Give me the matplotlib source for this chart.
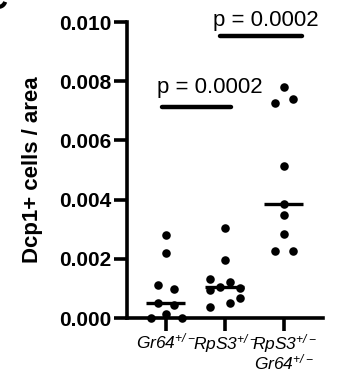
import matplotlib
matplotlib.use("Agg")
import matplotlib.pyplot as plt
import numpy as np

plt.rcParams['font.family'] = ['Liberation Sans', 'DejaVu Sans']
plt.rcParams['mathtext.fontset'] = 'custom'
plt.rcParams['mathtext.rm'] = 'Liberation Sans:italic'
plt.rcParams['mathtext.it'] = 'Liberation Sans:italic'
plt.rcParams['mathtext.bf'] = 'Liberation Sans:bold'

# ---- data ----
group_labels = [r'$Gr64^{+/-}$',
                r'$RpS3^{+/-}$',
                r'$RpS3^{+/-}$' + '\n' + r'$Gr64^{+/-}$']
gr64 = [0.00279, 0.00219, 0.00110, 0.00098, 0.00050, 0.00045, 0.0000, 0.00015, 0.0000]
gr64_dx = [0.0, 0.0, -0.13, 0.13, -0.13, 0.13, -0.25, 0.0, 0.27]
rps3 = [0.00304, 0.00197, 0.00132, 0.00095, 0.00106, 0.00120, 0.00103, 0.00050, 0.00067, 0.00038]
rps3_dx = [0.0, 0.0, -0.25, -0.25, -0.085, 0.085, 0.25, 0.085, 0.25, -0.25]
double = [0.00781, 0.00728, 0.00741, 0.00513, 0.00385, 0.00347, 0.00284, 0.00225, 0.00225]
double_dx = [0.0, -0.15, 0.15, 0.0, 0.0, 0.0, 0.0, -0.15, 0.15]
groups = [gr64, rps3, double]
offsets = [gr64_dx, rps3_dx, double_dx]
comparisons = [(0, 1, 0.00712, 'p = 0.0002'), (1, 2, 0.00954, 'p = 0.0002')]
y_ticks = [0.000, 0.002, 0.004, 0.006, 0.008, 0.010]

fig = plt.figure(figsize=(3.41, 3.70), dpi=100)
ax = fig.add_axes([0.372, 0.1405, 0.575, 0.80])

for i, (vals, dx) in enumerate(zip(groups, offsets)):
    xs = i + np.array(dx)
    ax.scatter(xs, vals, s=38, color='black', zorder=3, clip_on=False, linewidths=0)
    med = np.median(vals)
    ax.plot([i - 0.33, i + 0.33], [med, med], color='black', lw=2.4, zorder=4,
            solid_capstyle='butt')

bar_ext = [(-0.07, 0.10), (-0.08, 0.31)]
text_shift = [(0.23, 0.00030), (0.08, 0.00014)]
for (a, b, y, txt), (ea, eb), (tx, ty) in zip(comparisons, bar_ext, text_shift):
    x0, x1 = a + ea, b + eb
    ax.plot([x0, x1], [y, y], color='black', lw=3.2, solid_capstyle='round', clip_on=False)
    ax.text((x0 + x1) / 2 + tx, y + ty, txt, ha='center', va='bottom', fontsize=16,
            clip_on=False)

ax.set_xlim(-0.66, 2.66)
ax.set_ylim(0, 0.010)
ax.set_yticks(y_ticks)
ax.set_yticklabels(['%.3f' % v for v in y_ticks], fontweight='bold', fontsize=15)
ax.set_xticks(range(3))
ax.set_xticklabels(group_labels, fontsize=12.5, linespacing=0.88)
for sp in ['top', 'right']:
    ax.spines[sp].set_visible(False)
for sp in ['left', 'bottom']:
    ax.spines[sp].set_linewidth(2.6)
ax.tick_params(axis='both', width=2.6, length=9.5, pad=1.5)
ax.tick_params(axis='x', pad=0.3)
ax.set_ylabel('Dcp1+ cells / area', fontweight='bold', fontsize=16, labelpad=12)

fig.text(8 / 341, 1 - 9 / 370, 'C', ha='right', va='baseline', fontsize=22, fontweight='bold')

fig.savefig('out.png', dpi=100)
